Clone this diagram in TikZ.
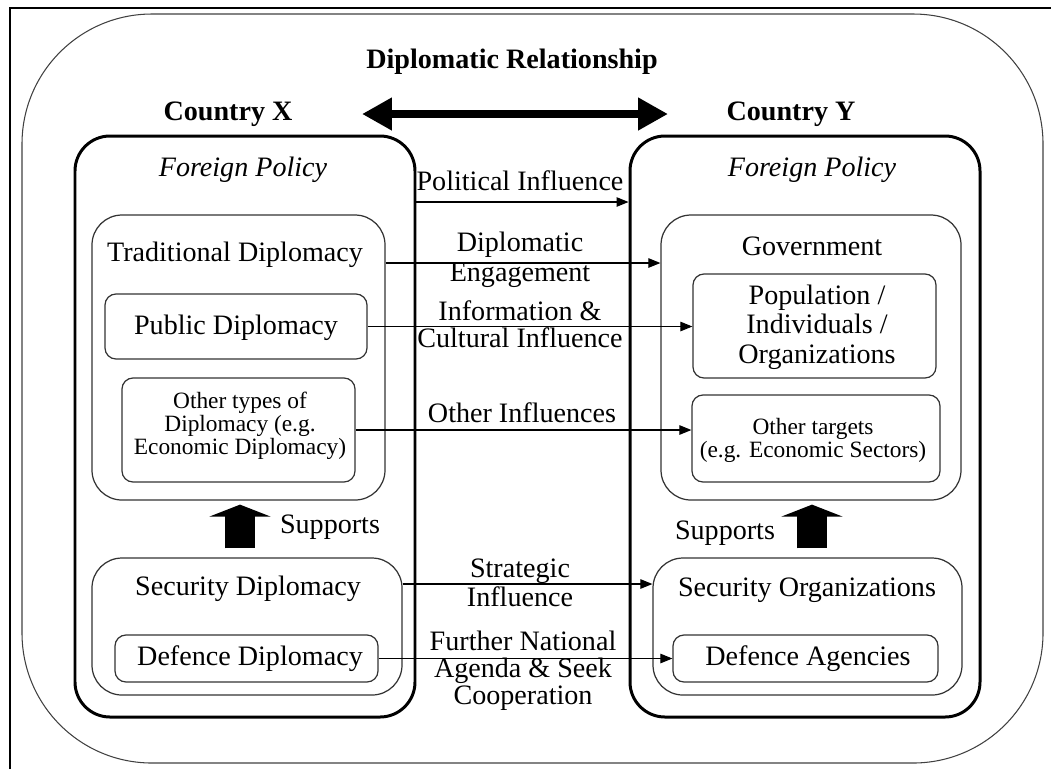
\documentclass[tikz,border=0pt]{standalone}
\usepackage{fontspec}
\setmainfont{Liberation Serif}
\usetikzlibrary{arrows.meta,fit}
\begin{document}
\begin{tikzpicture}[x=0.02cm,y=-0.02cm,>={Triangle[length=0.24cm,width=0.19cm]},
	font=\fontsize{16}{17}\selectfont,
	country/.style={draw,line width=1.7pt,rounded corners=0.7cm,inner sep=0pt},
	grp/.style={draw=black!80,line width=0.7pt,rounded corners=0.6cm,inner sep=0pt},
	box/.style={draw=black!80,line width=0.7pt,rounded corners=0.22cm,inner sep=0pt},
	lbl/.style={align=center,inner sep=0pt},
	small/.style={align=center,inner sep=0pt,font=\fontsize{13.3}{13.2}\selectfont},
	link/.style={->,line width=0.6pt},
	supp/.style={-{Triangle[width=1.22cm,length=0.24cm]},line width=0.6cm,shorten <=0.18cm,shorten >=0.08cm},
	rel/.style={{Triangle[width=0.62cm,length=0.6cm]}-{Triangle[width=0.62cm,length=0.6cm]},line width=0.16cm}]
	\useasboundingbox (0,0) rectangle (1051,769);
	\draw[line width=0.6pt] (10,769)--(10,8)--(1051,8);
	\draw[black!75,line width=0.6pt,rounded corners=2.6cm] (22,14) rectangle (1043,763);
	% the two countries
	\node[country,fit={(75,136) (415,717)}] (cx) {};
	\node[country,fit={(630,136) (980,717)}] (cy) {};
	\path (512,62) node[font=\fontsize{16}{17}\bfseries] (relt) {Diplomatic Relationship}
		(228,114) node[font=\fontsize{16}{17}\bfseries] (cxt) {Country X}
		(791,114) node[font=\fontsize{16}{17}\bfseries] (cyt) {Country Y}
		(243,170) node[font=\fontsize{16}{17}\itshape] (fpx) {Foreign Policy}
		(812,170) node[font=\fontsize{16}{17}\itshape] (fpy) {Foreign Policy}
		(362,114) coordinate (rl)
		(668,114) coordinate (rr);
	\draw[rel] (rl)--(rr);
	% groups and boxes
	\node[grp,fit={(92,215) (385,500)}] (trad) {};
	\node[grp,fit={(92,558) (402,695)}] (secx) {};
	\node[grp,fit={(661,215) (961,500)}] (gov) {};
	\node[grp,fit={(653,558) (962,695)}] (secy) {};
	\node[box,fit={(105,294) (367,359)}] (pub) {};
	\node[box,fit={(122,378) (355,482)}] (oth) {};
	\node[box,fit={(115,635) (378,682)}] (dd) {};
	\node[box,fit={(693,274) (936,378)}] (pop) {};
	\node[box,fit={(692,395) (940,482)}] (tgt) {};
	\node[box,fit={(673,635) (938,682)}] (da) {};
	\path (235,255) node (tradt) {Traditional Diplomacy}
		(236,328) node (pubt) {Public Diplomacy}
		(240,426) node[small] (otht) {Other types of\\Diplomacy (e.g.\\Economic Diplomacy)}
		(248,589) node (secxt) {Security Diplomacy}
		(250,659) node (ddt) {Defence Diplomacy}
		(812,246) node (govt) {Government}
		(817,327) node[lbl,font=\fontsize{16}{16.8}\selectfont] (popt) {Population /\\Individuals /\\Organizations}
		(813,440) node[small] (tgtt) {Other targets\\(e.g. Economic Sectors)}
		(807,590) node (secyt) {Security Organizations}
		(808,659) node (dat) {Defence Agencies}
		(330,527) node (supx) {Supports}
		(725,533) node (supy) {Supports}
		(240,0) coordinate (ax)
		(812,0) coordinate (ay);
	\draw[supp] (secx.north -| ax)--(trad.south -| ax);
	\draw[supp] (secy.north -| ay)--(gov.south -| ay);
	% influences between the countries
	\path (520,181) node[lbl] (pol) {Political Influence}
		(520,260) node[lbl,font=\fontsize{16}{16.8}\selectfont] (dipl) {Diplomatic\\Engagement}
		(520,324) node[lbl,font=\fontsize{16}{15.6}\selectfont] (info) {Information \&\\Cultural Influence}
		(522,413) node[lbl] (othi) {Other Influences}
		(520,583) node[lbl,font=\fontsize{16}{16.4}\selectfont] (strat) {Strategic\\Influence}
		(523,671) node[lbl,font=\fontsize{16}{15.3}\selectfont] (furth) {Further National\\Agenda \& Seek\\Cooperation}
		(520,202) coordinate (r1)
		(520,263) coordinate (r2)
		(520,584) coordinate (r5);
	\draw[link] (cx.east |- r1)--(cy.west |- r1);
	\draw[link] (trad.east |- r2)--(gov.west |- r2);
	\draw[link] (pub.east)--(pop.west |- pub.east);
	\draw[link] (oth.east)--(tgt.west |- oth.east);
	\draw[link] (secx.east |- r5)--(secy.west |- r5);
	\draw[link] (dd.east)--(da.west);
\end{tikzpicture}
\end{document}
